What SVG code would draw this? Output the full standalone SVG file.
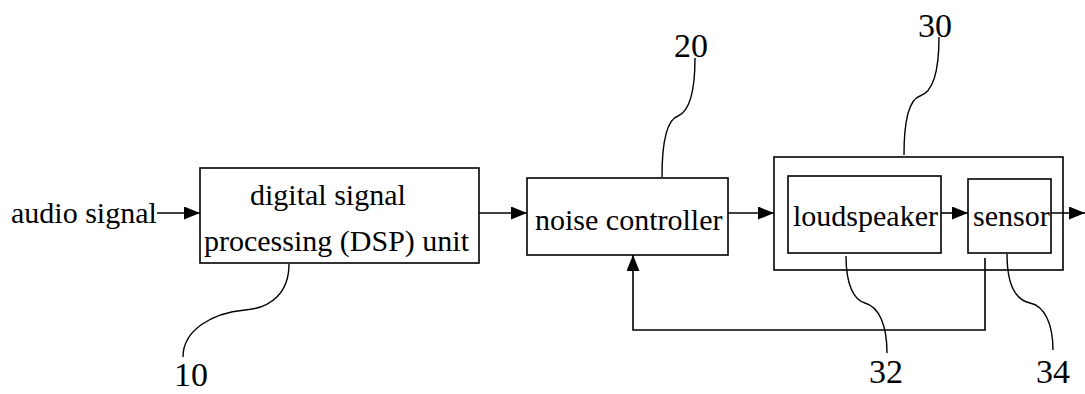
<svg xmlns="http://www.w3.org/2000/svg" width="1085" height="394" viewBox="0 0 1085 394">
<style>
  .box { fill: none; stroke: #000; stroke-width: 1.6; }
  .t { font-family: "Liberation Serif", "Times New Roman", serif; font-size: 30px; fill: #000; }
  .num { font-family: "Liberation Serif", "Times New Roman", serif; font-size: 34px; fill: #000; }
  .wire { fill: none; stroke: #000; stroke-width: 1.6; }
  .lead { fill: none; stroke: #000; stroke-width: 1.4; }
</style>
<defs>
  <marker id="ah" markerWidth="16" markerHeight="13" refX="16" refY="6.5" orient="auto" markerUnits="userSpaceOnUse">
    <path d="M0,0 L16,6.5 L0,13 z" fill="#000"/>
  </marker>
</defs>
<rect width="1085" height="394" fill="#fff"/>

<text class="t" x="11" y="223">audio signal</text>

<g id="dsp">
  <rect class="box" x="200" y="168" width="279" height="95"/>
  <text class="t" x="250" y="205">digital signal</text>
  <text class="t" x="204" y="251">processing (DSP) unit</text>
</g>

<g id="noise">
  <rect class="box" x="527" y="178" width="201" height="77"/>
  <text class="t" x="535" y="230">noise controller</text>
</g>

<g id="unit30">
  <rect class="box" x="774" y="157" width="289" height="113"/>
</g>

<g id="loudspeaker">
  <rect class="box" x="788" y="176" width="153" height="77"/>
  <text class="t" x="793" y="226">loudspeaker</text>
</g>

<g id="sensor">
  <rect class="box" x="968" y="179" width="83" height="74"/>
  <text class="t" x="973" y="226">sensor</text>
</g>

<g id="connectors">
  <path class="wire" d="M157,213 H200" marker-end="url(#ah)"/>
  <path class="wire" d="M479,213 H527" marker-end="url(#ah)"/>
  <path class="wire" d="M728,213 H774" marker-end="url(#ah)"/>
  <path class="wire" d="M941,213 H968" marker-end="url(#ah)"/>
  <path class="wire" d="M1051,213 H1085" marker-end="url(#ah)"/>
  <path class="wire" d="M985,258 V330 H633 V255" marker-end="url(#ah)"/>
</g>

<g id="leaders">
  <path class="lead" d="M289,264 C289,292 272,308 245,310 C212,313 183,330 183,357"/>
  <text class="num" x="174" y="386">10</text>
  <path class="lead" d="M662,177 C662,135 669,119 678,116 C690,111 695,92 695,58"/>
  <text class="num" x="674" y="57">20</text>
  <path class="lead" d="M904,155 C904,113 911,99 920,96 C933,92 939,72 939,37"/>
  <text class="num" x="918" y="37">30</text>
  <path class="lead" d="M846,256 C846,285 854,300 865,303 C879,307 887,325 887,353"/>
  <text class="num" x="869" y="383">32</text>
  <path class="lead" d="M1007,254 C1007,285 1016,300 1030,303 C1045,306 1053,325 1053,350"/>
  <text class="num" x="1036" y="383">34</text>
</g>
</svg>
